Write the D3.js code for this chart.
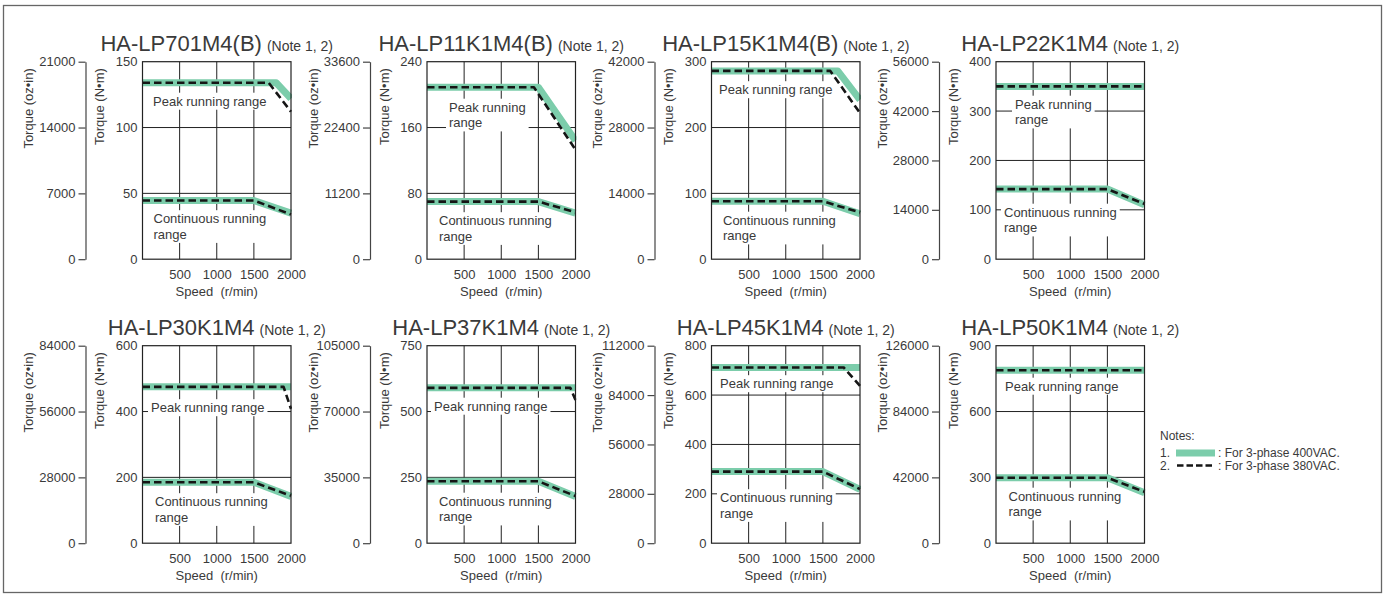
<!DOCTYPE html>
<html><head><meta charset="utf-8">
<script src="https://cdn.jsdelivr.net/npm/d3@7"></script>
<style>body{margin:0;background:#fff}</style>
</head><body>
<svg id="c" width="1388" height="595"></svg>
<script>
// ---------- data ----------
const models = ["HA-LP701M4(B)","HA-LP11K1M4(B)","HA-LP15K1M4(B)","HA-LP22K1M4",
                "HA-LP30K1M4","HA-LP37K1M4","HA-LP45K1M4","HA-LP50K1M4"];
const noteText = "(Note 1, 2)";
const nmTicks = [[0,50,100,150],[0,80,160,240],[0,100,200,300],[0,100,200,300,400],
                 [0,200,400,600],[0,250,500,750],[0,200,400,600,800],[0,300,600,900]];
const ozTicks = [[0,7000,14000,21000],[0,11200,22400,33600],[0,14000,28000,42000],[0,14000,28000,42000,56000],
                 [0,28000,56000,84000],[0,35000,70000,105000],[0,28000,56000,84000,112000],[0,42000,84000,126000]];
const speedTicks = [500,1000,1500,2000];
// [speed r/min, torque N·m]
const peak400 = [
  [[0,134],[1800,134],[2000,122]],
  [[0,209],[1500,209],[2000,144]],
  [[0,286],[1700,286],[2000,242]],
  [[0,350],[2000,350]],
  [[0,475],[2000,475]],
  [[0,590],[2000,590]],
  [[0,712],[2000,712]],
  [[0,788],[2000,788]]
];
const peak380 = [
  [[0,134],[1700,134],[2000,112]],
  [[0,209],[1440,209],[2000,133]],
  [[0,286],[1600,286],[2000,222]],
  [[0,350],[2000,350]],
  [[0,475],[1900,475],[2000,408]],
  [[0,590],[1930,590],[2000,544]],
  [[0,712],[1780,712],[2000,637]],
  [[0,788],[2000,788]]
];
const cont400 = [
  [[0,44.6],[1500,44.6],[2000,35]],
  [[0,70],[1500,70],[2000,56]],
  [[0,88],[1500,88],[2000,69]],
  [[0,142],[1500,142],[2000,110]],
  [[0,185],[1500,185],[2000,142]],
  [[0,235],[1500,235],[2000,177]],
  [[0,290],[1500,290],[2000,218]],
  [[0,298],[1500,298],[2000,230]]
];
const cont380 = [
  [[0,44.6],[1500,44.6],[2000,34]],
  [[0,70],[1500,70],[2000,57]],
  [[0,88],[1500,88],[2000,71]],
  [[0,142],[1500,142],[2000,112]],
  [[0,185],[1500,185],[2000,144]],
  [[0,235],[1500,235],[2000,179]],
  [[0,290],[1500,290],[2000,219]],
  [[0,298],[1500,298],[2000,234]]
];
const peakLabels = [["Peak running range"],["Peak running","range"],["Peak running range"],["Peak running","range"],
                    ["Peak running range"],["Peak running range"],["Peak running range"],["Peak running range"]];
const contLabel = ["Continuous running","range"];
const legendTexts = ["Notes:","1.",": For 3-phase 400VAC.","2.",": For 3-phase 380VAC."];

// ---------- layout ----------
const W = 1388, H = 595;
const plotW = 148.5, plotH = 197.5;
const col0 = 142.5, colStep = 284.5;
const rowTops = [61.7, 345.7];
// label anchor positions relative to plot (x, first baseline)
const peakPos = [[10.5,44],[22,50],[7.5,32.5],[19,47],[8.5,66.5],[7,65],[8.5,42.5],[9,45]];
const contPos = [[11,161.5],[12,163.5],[11.5,163],[8,155],[12.5,160.5],[12,160],[8.5,156.5],[12.5,155]];
const lineH = 15.7;

const GREEN = "#7ccdab", TXT = "#3a3a3a", LINE = "#222";
const FONT = "'Liberation Sans', Arial, Helvetica, sans-serif";
const intFmt = d3.format("d");

const svg = d3.select("#c").attr("font-family", FONT);
svg.append("rect").attr("width",W).attr("height",H).attr("fill","#fff");
svg.append("rect").attr("x",3.5).attr("y",5.5).attr("width",1378).attr("height",587)
   .attr("fill","none").attr("stroke","#666").attr("stroke-width",1.3);

const defs = svg.append("defs");

models.forEach((name, i) => {
  const col = i % 4, row = Math.floor(i / 4);
  const left = col0 + col * colStep, top = rowTops[row];
  const g = svg.append("g").attr("transform", `translate(${left},${top})`);
  const yMax = nmTicks[i][nmTicks[i].length - 1];
  const ozMax = ozTicks[i][ozTicks[i].length - 1];
  const x = d3.scaleLinear().domain([0, 2000]).range([0, plotW]);
  const y = d3.scaleLinear().domain([0, yMax]).range([plotH, 0]);
  const yOz = d3.scaleLinear().domain([0, ozMax]).range([plotH, 0]);

  // title
  const t = g.append("text").attr("x", plotW / 2).attr("y", -11)
    .attr("text-anchor", "middle").attr("fill", TXT);
  t.append("tspan").attr("font-size", 22).text(name);
  t.append("tspan").attr("font-size", 14).attr("dx", 5).text(noteText);

  // oz·in axis
  const ozG = g.append("g").attr("transform", "translate(-57,0)");
  ozG.call(d3.axisLeft(yOz).tickValues(ozTicks[i]).tickSize(7).tickPadding(3).tickSizeOuter(0).tickFormat(intFmt));
  ozG.select(".domain").attr("stroke", "#444").attr("stroke-width", 1.2);
  ozG.selectAll(".tick line").attr("stroke", "#444").attr("stroke-width", 1.2);
  ozG.selectAll(".tick text").attr("font-size", 13).attr("fill", TXT).attr("font-family", FONT);

  // rotated labels
  g.append("text").attr("transform", `translate(-114,6.5) rotate(-90)`)
    .attr("text-anchor", "end").attr("dy", "0.35em").attr("font-size", 13).attr("fill", TXT).text("Torque (oz•in)");
  g.append("text").attr("transform", `translate(-43,6.5) rotate(-90)`)
    .attr("text-anchor", "end").attr("dy", "0.35em").attr("font-size", 13).attr("fill", TXT).text("Torque (N•m)");

  // N·m axis (labels only)
  const nmG = g.append("g");
  nmG.call(d3.axisLeft(y).tickValues(nmTicks[i]).tickSize(0).tickPadding(5).tickFormat(intFmt));
  nmG.select(".domain").remove();
  nmG.selectAll(".tick text").attr("font-size", 13).attr("fill", TXT).attr("font-family", FONT);

  // speed axis labels
  const xG = g.append("g").attr("transform", `translate(0,${plotH})`);
  xG.call(d3.axisBottom(x).tickValues(speedTicks).tickSize(0).tickPadding(11).tickFormat(intFmt));
  xG.select(".domain").remove();
  xG.selectAll(".tick text").attr("font-size", 13).attr("fill", TXT).attr("font-family", FONT);
  g.append("text").attr("x", plotW / 2).attr("y", plotH + 37).attr("text-anchor", "middle")
    .attr("font-size", 13).attr("fill", TXT).attr("xml:space","preserve").text("Speed  (r/min)");

  // grid
  const grid = g.append("g").attr("stroke", LINE).attr("stroke-width", 1);
  grid.selectAll("line.v").data(speedTicks.filter(d => d < 2000)).join("line")
    .attr("x1", d => x(d)).attr("x2", d => x(d)).attr("y1", 0).attr("y2", plotH);
  grid.selectAll("line.h").data(nmTicks[i].filter(d => d > 0 && d < yMax)).join("line")
    .attr("class","h").attr("x1", 0).attr("x2", plotW).attr("y1", d => y(d)).attr("y2", d => y(d));

  // annotations with white boxes
  const addLabel = (lines, pos) => {
    const lg = g.append("g");
    const tx = lg.append("text").attr("font-size", 13).attr("fill", TXT);
    lines.forEach((l, k) => tx.append("tspan").attr("x", pos[0]).attr("y", pos[1] + k * lineH).text(l));
    const bb = tx.node().getBBox();
    lg.insert("rect", "text").attr("x", bb.x - 3).attr("y", bb.y - 1)
      .attr("width", bb.width + 6).attr("height", bb.height + 2).attr("fill", "#fff");
  };
  addLabel(peakLabels[i], peakPos[i]);
  addLabel(contLabel, contPos[i]);

  // curves
  const cid = "clip" + i;
  defs.append("clipPath").attr("id", cid).append("rect")
    .attr("x", 0).attr("y", -2).attr("width", plotW + 1).attr("height", plotH + 4);
  const line = d3.line().x(d => x(d[0])).y(d => y(d[1]));
  const cg = g.append("g").attr("clip-path", `url(#${cid})`);
  [peak400[i], cont400[i]].forEach(s => cg.append("path").attr("d", line(s)).attr("fill", "none")
    .attr("stroke", GREEN).attr("stroke-width", 7).attr("stroke-linejoin", "round"));
  [peak380[i], cont380[i]].forEach(s => cg.append("path").attr("d", line(s)).attr("fill", "none")
    .attr("stroke", "#151515").attr("stroke-width", 2.6).attr("stroke-dasharray", "7.5,4").attr("stroke-linejoin", "round"));

  // frame
  g.append("rect").attr("x", 0).attr("y", 0).attr("width", plotW).attr("height", plotH)
    .attr("fill", "none").attr("stroke", LINE).attr("stroke-width", 1.2);
});

// legend
const lg = svg.append("g").attr("font-size", 12).attr("fill", TXT);
lg.append("text").attr("x", 1160).attr("y", 440).text(legendTexts[0]);
lg.append("text").attr("x", 1160).attr("y", 456.5).text(legendTexts[1]);
lg.append("rect").attr("x", 1176).attr("y", 449.5).attr("width", 39).attr("height", 7).attr("fill", GREEN);
lg.append("text").attr("x", 1218).attr("y", 456.5).text(legendTexts[2]);
lg.append("text").attr("x", 1160).attr("y", 469.5).text(legendTexts[3]);
lg.append("line").attr("x1", 1177).attr("x2", 1215).attr("y1", 465.5).attr("y2", 465.5)
  .attr("stroke", "#151515").attr("stroke-width", 2.4).attr("stroke-dasharray", "6.5,3");
lg.append("text").attr("x", 1218).attr("y", 469.5).text(legendTexts[4]);
</script>
</body></html>
